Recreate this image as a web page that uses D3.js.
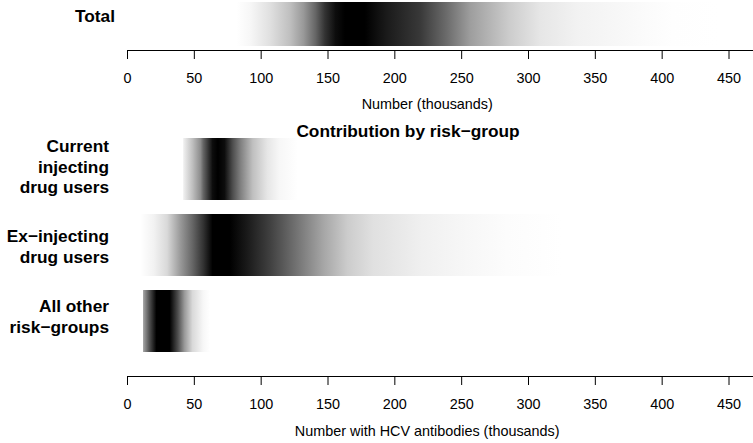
<!DOCTYPE html>
<html>
<head>
<meta charset="utf-8">
<script src="https://cdn.jsdelivr.net/npm/d3@7"></script>
<style>
  body { margin: 0; background: #fff; }
  svg { display: block; font-family: "Liberation Sans", Arial, Helvetica, sans-serif; }
</style>
</head>
<body>
<script>
// values in thousands, darkness 0 (white) .. 1 (black)
var totalVals = [82, 92, 107, 122, 132, 141, 148, 156, 163, 178, 194, 219, 239, 257, 286, 309, 337, 366, 389, 408, 443];
var totalDens = [0, 0.03, 0.12, 0.25, 0.4, 0.6, 0.8, 0.95, 1, 1, 0.9, 0.78, 0.58, 0.38, 0.2, 0.1, 0.05, 0.03, 0.015, 0.005, 0];

var currentVals = [42, 49, 55, 57, 61, 64, 68, 73, 79, 85, 94, 105, 114, 128];
var currentDens = [0.05, 0.25, 0.45, 0.6, 0.8, 0.95, 1, 0.95, 0.7, 0.5, 0.25, 0.1, 0.03, 0];

var exVals = [10, 20, 30, 40, 49, 57, 64, 77, 90, 107, 127, 147, 165, 184, 221, 254, 284, 325];
var exDens = [0, 0.05, 0.15, 0.4, 0.6, 0.8, 1, 1, 0.9, 0.75, 0.55, 0.35, 0.2, 0.12, 0.06, 0.03, 0.01, 0];

var otherVals = [12, 17, 22, 32, 38, 43, 49, 57, 62];
var otherDens = [0.35, 0.7, 1, 1, 0.7, 0.4, 0.15, 0.03, 0];

var groupLabels = [
  ["Current", "injecting", "drug users"],
  ["Ex\u2212injecting", "drug users"],
  ["All other", "risk\u2212groups"]
];
var tickValues = [0, 50, 100, 150, 200, 250, 300, 350, 400, 450];

var width = 753, height = 443;
var svg = d3.select("body").append("svg")
  .attr("width", width)
  .attr("height", height);

var x = d3.scaleLinear()
  .domain([0, 470])
  .range([127, 127 + 470 * (601.5 / 450)]);

var shade = d3.interpolateRgb("#ffffff", "#000000");
var defs = svg.append("defs");

// one strip = rect filled with a horizontal gradient built from the density points
function strip(id, vals, dens, y0, h) {
  var v0 = vals[0], v1 = vals[vals.length - 1];
  var grad = defs.append("linearGradient")
    .attr("id", id)
    .attr("gradientUnits", "userSpaceOnUse")
    .attr("x1", x(v0)).attr("x2", x(v1))
    .attr("y1", 0).attr("y2", 0);
  grad.selectAll("stop")
    .data(vals)
    .enter().append("stop")
    .attr("offset", function(d) { return (d - v0) / (v1 - v0); })
    .attr("stop-color", function(d, i) { return shade(dens[i]); });
  svg.append("rect")
    .attr("x", x(v0))
    .attr("y", y0)
    .attr("width", x(v1) - x(v0))
    .attr("height", h)
    .attr("fill", "url(#" + id + ")");
}

function axis(y, title, titleY) {
  var g = svg.append("g")
    .attr("transform", "translate(0," + y + ")")
    .call(d3.axisBottom(x).tickValues(tickValues).tickSize(9).tickSizeOuter(0).tickPadding(14));
  g.select(".domain").attr("stroke", "#000");
  g.selectAll(".tick line").attr("stroke", "#000");
  g.selectAll(".tick text")
    .attr("font-size", "14.4px")
    .attr("font-family", "Liberation Sans, Arial, sans-serif")
    .attr("fill", "#000");
  svg.append("text")
    .attr("x", x(225) - 0.5)
    .attr("y", titleY)
    .attr("text-anchor", "middle")
    .attr("font-size", "14.4px")
    .text(title);
}

function boldLabel(lines, xr, firstBaseline) {
  var t = svg.append("text")
    .attr("text-anchor", "end")
    .attr("font-size", "17.3px")
    .attr("font-weight", "bold");
  lines.forEach(function(s, i) {
    t.append("tspan")
      .attr("x", xr)
      .attr("y", firstBaseline + i * 20.5)
      .text(s);
  });
}

// top panel
strip("g-total", totalVals, totalDens, 2, 44);
boldLabel(["Total"], 115, 22);
axis(50, "Number (thousands)", 109);

svg.append("text")
  .attr("x", 408)
  .attr("y", 137)
  .attr("text-anchor", "middle")
  .attr("font-size", "17.3px")
  .attr("font-weight", "bold")
  .text("Contribution by risk\u2212group");

// bottom panel
var stripTop = [138, 214, 290], stripH = 62;
strip("g-cur", currentVals, currentDens, stripTop[0], stripH);
strip("g-ex", exVals, exDens, stripTop[1], stripH);
strip("g-oth", otherVals, otherDens, stripTop[2], stripH);

boldLabel(groupLabels[0], 109, 152);
boldLabel(groupLabels[1], 109, 242);
boldLabel(groupLabels[2], 109, 312);

axis(376, "Number with HCV antibodies (thousands)", 436);
</script>
</body>
</html>
